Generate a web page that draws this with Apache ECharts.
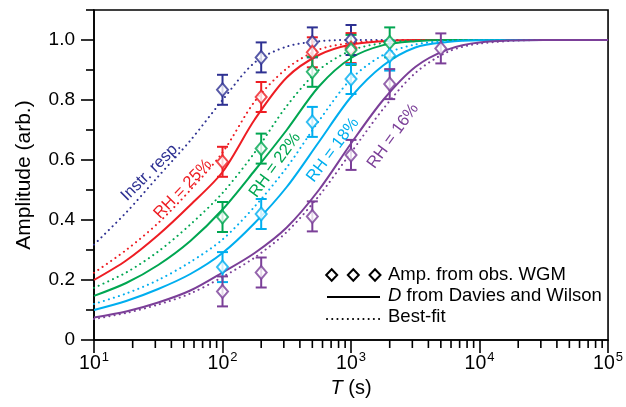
<!DOCTYPE html>
<html><head><meta charset="utf-8">
<script src="https://cdn.jsdelivr.net/npm/echarts@6/dist/echarts.min.js"></script>
<style>html,body{margin:0;padding:0;background:#fff}#c{width:626px;height:407px}</style>
</head><body><div id="c"></div>
<script>
// ---- data ----
const tGrid = [10, 17.8, 31.6, 56.2, 100, 178, 316, 562, 1000, 1778, 3162, 5623, 10000, 31623, 100000];
const instrDot    = [0.318, 0.425, 0.545, 0.665, 0.80, 0.925, 0.978, 0.996, 1.0, 1.0, 1.0, 1.0, 1.0, 1.0, 1.0];
const rh25Solid   = [0.20, 0.265, 0.35, 0.45, 0.56, 0.735, 0.875, 0.95, 0.985, 0.996, 1.0, 1.0, 1.0, 1.0, 1.0];
const rh25Dot     = [0.224, 0.30, 0.39, 0.50, 0.625, 0.795, 0.905, 0.968, 0.99, 0.998, 1.0, 1.0, 1.0, 1.0, 1.0];
const rh22Solid   = [0.147, 0.19, 0.25, 0.33, 0.435, 0.565, 0.70, 0.845, 0.94, 0.983, 0.996, 1.0, 1.0, 1.0, 1.0];
const rh22Dot     = [0.174, 0.225, 0.295, 0.385, 0.49, 0.625, 0.78, 0.90, 0.965, 0.99, 0.998, 1.0, 1.0, 1.0, 1.0];
const rh18Solid   = [0.10, 0.13, 0.17, 0.22, 0.29, 0.39, 0.51, 0.66, 0.81, 0.915, 0.975, 0.993, 0.999, 1.0, 1.0];
const rh18Dot     = [0.12, 0.155, 0.20, 0.26, 0.335, 0.445, 0.575, 0.73, 0.87, 0.95, 0.985, 0.997, 1.0, 1.0, 1.0];
const rh16Solid   = [0.075, 0.095, 0.125, 0.165, 0.225, 0.29, 0.375, 0.50, 0.655, 0.80, 0.91, 0.968, 0.992, 1.0, 1.0];
const rh16Dot     = [0.07, 0.09, 0.118, 0.155, 0.21, 0.275, 0.36, 0.48, 0.625, 0.77, 0.89, 0.96, 0.988, 1.0, 1.0];

const instrT = [100, 200, 500, 1000];            const instrA = [0.834, 0.942, 0.992, 1.0];
const rh25T  = [100, 200, 500, 1000];            const rh25A  = [0.594, 0.81, 0.959, 0.973];
const rh22T  = [100, 200, 500, 1000, 2000];      const rh22A  = [0.41, 0.638, 0.894, 0.967, 0.992];
const rh18T  = [100, 200, 500, 1000, 2000];      const rh18A  = [0.243, 0.42, 0.727, 0.87, 0.948];
const rh16T  = [100, 200, 500, 1000, 2000, 5000];const rh16A  = [0.162, 0.225, 0.412, 0.617, 0.853, 0.972];
const errBar = 0.05;

const xMajorExp = ['1', '2', '3', '4', '5'];
const xMinorTicks = [20,30,40,50,60,70,80,90,200,300,400,500,600,700,800,900,2000,3000,4000,5000,6000,7000,8000,9000,20000,30000,40000,50000,60000,70000,80000,90000];
const yMajorTicks = [0, 0.2, 0.4, 0.6, 0.8, 1.0];
const yMinorTicks = [0.1, 0.3, 0.5, 0.7, 0.9, 1.1];

const C = {navy:'#2e3192', red:'#ee1d23', green:'#00a651', cyan:'#00aeef', purple:'#7b3f98'};
const FONT = 'Liberation Sans, Arial, Helvetica, sans-serif';
const DOTS = [0.1, 5.1];

function lineSeries(arr, color, dotted) {
  return {
    type: 'line', data: tGrid.map((t, i) => [t, arr[i]]), smooth: 0.3, symbol: 'none', z: 2,
    lineStyle: {color: color, width: 2, type: dotted ? DOTS : 'solid', cap: dotted ? 'round' : 'butt'},
    silent: true
  };
}
function errSeries(ts, as, color) {
  return {
    type: 'custom', z: 3, silent: true,
    data: ts.map((t, i) => [t, as[i], errBar]),
    renderItem: function (p, api) {
      const x = api.value(0), y = api.value(1), e = api.value(2);
      const a = api.coord([x, y + e]), b = api.coord([x, y - e]);
      const hw = 5.5, st = {stroke: color, lineWidth: 2};
      return {type: 'group', children: [
        {type: 'line', shape: {x1: a[0], y1: a[1], x2: b[0], y2: b[1]}, style: st},
        {type: 'line', shape: {x1: a[0] - hw, y1: a[1], x2: a[0] + hw, y2: a[1]}, style: st},
        {type: 'line', shape: {x1: b[0] - hw, y1: b[1], x2: b[0] + hw, y2: b[1]}, style: st}
      ]};
    }
  };
}
function ptSeries(ts, as, color) {
  return {
    type: 'scatter', z: 4, silent: true, data: ts.map((t, i) => [t, as[i]]),
    symbol: 'diamond', symbolSize: [11, 13],
    itemStyle: {color: '#fff', borderColor: color, borderWidth: 2}
  };
}

const chart = echarts.init(document.getElementById('c'));
const labelStyle = (t, c, x, y, deg) => ({
  type: 'text', x: x, y: y, rotation: deg * Math.PI / 180, z: 10,
  style: {text: t, fill: c, fontSize: 16.5, fontFamily: FONT, align: 'center', verticalAlign: 'middle'}
});
const dia = (cx, cy) => ({type: 'polygon', z: 10,
  shape: {points: [[cx, cy - 5.8], [cx + 5.5, cy], [cx, cy + 5.8], [cx - 5.5, cy]]},
  style: {fill: '#fff', stroke: '#000', lineWidth: 2}});

chart.setOption({
  animation: false,
  backgroundColor: '#fff',
  textStyle: {fontFamily: FONT, color: '#000'},
  grid: {left: 94, right: 17, top: 10, bottom: 67, show: true, borderColor: '#000', borderWidth: 1.6, backgroundColor: 'transparent'},
  xAxis: {
    type: 'log', logBase: 10, min: 10, max: 100000, position: 'bottom',
    axisLine: {lineStyle: {color: '#000', width: 1.6}},
    axisTick: {length: 13, lineStyle: {color: '#000', width: 1.6}},
    splitLine: {show: false}, minorTick: {show: false},
    axisLabel: {
      margin: 14, color: '#000',
      formatter: function (v) { const k = Math.round(Math.log10(v)) - 1; return '{b|10}{s|' + xMajorExp[k] + '}'; },
      rich: {
        b: {fontSize: 19.5, fontFamily: FONT, color: '#000', lineHeight: 20, verticalAlign: 'bottom'},
        s: {fontSize: 13, fontFamily: FONT, color: '#000', lineHeight: 12, verticalAlign: 'bottom', padding: [0, 0, 10, 1]}
      }
    },
    name: '{i|T} (s)', nameLocation: 'middle', nameGap: 38,
    nameTextStyle: {fontSize: 20, fontFamily: FONT, color: '#000',
      rich: {i: {fontSize: 20, fontStyle: 'italic', fontFamily: FONT, color: '#000'}}}
  },
  yAxis: {
    type: 'value', min: 0, max: 1.1,
    axisLine: {show: true, lineStyle: {color: '#000', width: 1.6}},
    axisTick: {show: true, length: 13, customValues: yMajorTicks, lineStyle: {color: '#000', width: 1.6}},
    axisLabel: {customValues: yMajorTicks, margin: 19, fontSize: 19, color: '#000', fontFamily: FONT,
      formatter: v => v === 0 ? '0' : v.toFixed(1)},
    splitLine: {show: false},
    name: 'Amplitude (arb.)', nameLocation: 'middle', nameGap: 59,
    nameTextStyle: {fontSize: 21, fontFamily: FONT, color: '#000'}
  },
  series: [
    lineSeries(instrDot, C.navy, true),
    lineSeries(rh25Dot, C.red, true), lineSeries(rh25Solid, C.red, false),
    lineSeries(rh22Dot, C.green, true), lineSeries(rh22Solid, C.green, false),
    lineSeries(rh18Dot, C.cyan, true), lineSeries(rh18Solid, C.cyan, false),
    lineSeries(rh16Dot, C.purple, true), lineSeries(rh16Solid, C.purple, false),
    errSeries(instrT, instrA, C.navy), errSeries(rh25T, rh25A, C.red), errSeries(rh22T, rh22A, C.green),
    errSeries(rh18T, rh18A, C.cyan), errSeries(rh16T, rh16A, C.purple),
    ptSeries(instrT, instrA, C.navy), ptSeries(rh25T, rh25A, C.red), ptSeries(rh22T, rh22A, C.green),
    ptSeries(rh18T, rh18A, C.cyan), ptSeries(rh16T, rh16A, C.purple),
    {type: 'custom', clip: false, silent: true, z: 5, data: xMinorTicks.map(v => [v, 0]),
      renderItem: (p, api) => { const c = api.coord([api.value(0), 0]);
        return {type: 'line', shape: {x1: c[0], y1: c[1], x2: c[0], y2: c[1] + 8}, style: {stroke: '#000', lineWidth: 1.6}}; }},
    {type: 'custom', clip: false, silent: true, z: 5, data: yMinorTicks.map(v => [10, v]),
      renderItem: (p, api) => { const c = api.coord([10, api.value(1)]);
        return {type: 'line', shape: {x1: c[0] - 8, y1: c[1], x2: c[0], y2: c[1]}, style: {stroke: '#000', lineWidth: 1.6}}; }}
  ],
  graphic: [
    labelStyle('Instr. resp.', C.navy, 151, 171, 45),
    labelStyle('RH = 25%', C.red, 183, 189, 46),
    labelStyle('RH = 22%', C.green, 275, 165, 54),
    labelStyle('RH = 18%', C.cyan, 333, 150, 53),
    labelStyle('RH = 16%', C.purple, 393, 136, 54),
    dia(331.7, 275), dia(353.3, 275), dia(375, 275),
    {type: 'text', x: 388, y: 275, z: 10, style: {text: 'Amp. from obs. WGM', fill: '#000', fontSize: 18.5, fontFamily: FONT, verticalAlign: 'middle'}},
    {type: 'line', z: 10, shape: {x1: 327, y1: 297, x2: 380, y2: 297}, style: {stroke: '#000', lineWidth: 2}},
    {type: 'text', x: 388, y: 296, z: 10, style: {text: '{i|D} from Davies and Wilson', fill: '#000', fontSize: 18.5, fontFamily: FONT, verticalAlign: 'middle',
      rich: {i: {fontStyle: 'italic', fontSize: 18.5, fontFamily: FONT, fill: '#000'}}}},
    {type: 'line', z: 10, shape: {x1: 327, y1: 319, x2: 380, y2: 319}, style: {stroke: '#000', lineWidth: 2, lineDash: DOTS, lineCap: 'round'}},
    {type: 'text', x: 388, y: 317, z: 10, style: {text: 'Best-fit', fill: '#000', fontSize: 18.5, fontFamily: FONT, verticalAlign: 'middle'}}
  ]
});
</script></body></html>
